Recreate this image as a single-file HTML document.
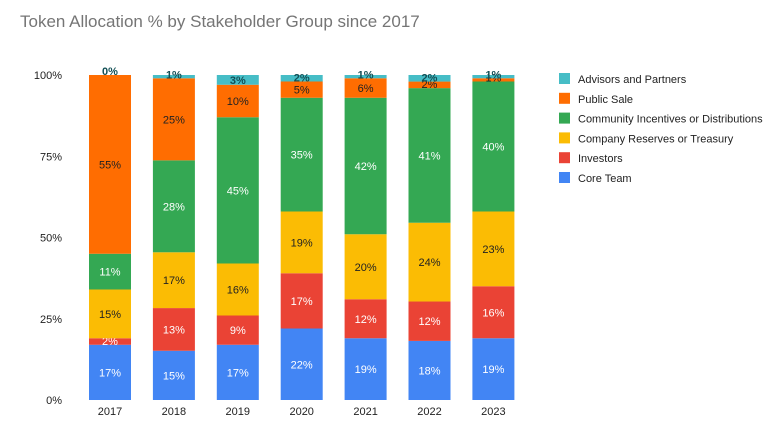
<!DOCTYPE html>
<html><head><meta charset="utf-8"><style>
body{margin:0;background:#fff;font-family:"Liberation Sans",Arial,sans-serif}
svg text{font-family:"Liberation Sans",Arial,sans-serif}
</style></head><body>
<svg id="c" width="774" height="439">
<text x="20" y="27" font-size="17" fill="#757575">Token Allocation % by Stakeholder Group since 2017</text>
<g id="axis"></g><g id="bars"></g><g id="legend"></g>
</svg>
<script>
const years=["2017","2018","2019","2020","2021","2022","2023"];
const coreTeam=[17,15,17,22,19,18,19];
const investors=[2,13,9,17,12,12,16];
const companyReserves=[15,17,16,19,20,24,23];
const community=[11,28,45,35,42,41,40];
const publicSale=[55,25,10,5,6,2,1];
const advisors=[0,1,3,2,1,2,1];
const yTicks=[0,25,50,75,100];
const series=[
 {name:"Core Team",data:coreTeam,color:"#4285f4",text:"#fff"},
 {name:"Investors",data:investors,color:"#ea4335",text:"#fff"},
 {name:"Company Reserves or Treasury",data:companyReserves,color:"#fbbc04",text:"#222"},
 {name:"Community Incentives or Distributions",data:community,color:"#34a853",text:"#fff"},
 {name:"Public Sale",data:publicSale,color:"#ff6d01",text:"#222"},
 {name:"Advisors and Partners",data:advisors,color:"#46bdc6",text:"#124f55"}
];
const NS="http://www.w3.org/2000/svg";
const y0=400,y1=75;
const yS=v=>y0-(y0-y1)*v/100;
const xS=i=>110+63.9*i;
const bw=42;
function mk(tag,attrs,parent){const e=document.createElementNS(NS,tag);for(const k in attrs)e.setAttribute(k,attrs[k]);parent.appendChild(e);return e;}
const ax=document.getElementById('axis'),bg=document.getElementById('bars'),lg=document.getElementById('legend');
yTicks.forEach(t=>{const e=mk('text',{x:62,y:yS(t)+4,'font-size':11,fill:'#222','text-anchor':'end'},ax);e.textContent=t+'%';

});
years.forEach((yr,i)=>{
 const tot=series.reduce((s,se)=>s+se.data[i],0);
 let acc=0;
 const g=mk('g',{},bg);
 
 
 series.forEach((se,si)=>{
  const v=se.data[i];const a=acc/tot*100,b=(acc+v)/tot*100;acc+=v;
  const top=yS(b),bot=yS(a);
  const r=mk('rect',{x:xS(i)-bw/2,y:top,width:bw,height:Math.max(bot-top,0),fill:se.color},g);
  
  
  const t=mk('text',{x:xS(i),y:Math.min((top+bot)/2+4,bot),'font-size':11,fill:se.text,'text-anchor':'middle','font-weight':si==5?'bold':'normal'},g);
  t.textContent=v+'%';
  
  
 });
 const xl=mk('text',{x:xS(i),y:415,'font-size':11,fill:'#222','text-anchor':'middle'},ax);xl.textContent=yr;
 
 
});
series.slice().reverse().forEach((se,j)=>{
 const g=mk('g',{},lg);
 
 
 const cy=79+19.8*j;
 mk('rect',{x:559,y:cy-6,width:11,height:11,fill:se.color},g);
 const t=mk('text',{x:578,y:cy+4,'font-size':11,fill:'#222'},g);t.textContent=se.name;
});
</script>
</body></html>
